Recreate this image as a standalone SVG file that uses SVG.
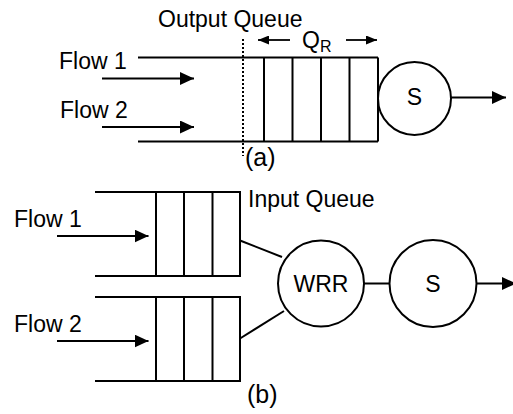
<svg xmlns="http://www.w3.org/2000/svg" width="513" height="414" viewBox="0 0 513 414">
  <defs>
    <marker id="arrow" markerUnits="userSpaceOnUse" markerWidth="14" markerHeight="13" refX="14" refY="6.5" orient="auto">
      <path d="M0,0 L14,6.5 L0,13 Z" fill="#000"/>
    </marker>
    <marker id="arrow-sm" markerUnits="userSpaceOnUse" markerWidth="11" markerHeight="9" refX="11" refY="4.5" orient="auto">
      <path d="M0,0 L11,4.5 L0,9 Z" fill="#000"/>
    </marker>
  </defs>
  <style>
    .ln { stroke: #000; stroke-width: 2; fill: none; }
    .node { stroke: #000; stroke-width: 2; fill: #fff; }
    .lbl { font-family: "Liberation Sans", Arial, sans-serif; font-size: 23px; fill: #000; }
    .cap { font-size: 25px; }
    .arr { stroke: #000; stroke-width: 2; fill: none; marker-end: url(#arrow); }
    .arr-sm { stroke: #000; stroke-width: 1.8; fill: none; marker-end: url(#arrow-sm); }
  </style>

  <!-- (a) shared output queue -->
  <g id="labels-a">
    <text class="lbl" x="158" y="27">Output Queue</text>
    <text class="lbl" x="59" y="69">Flow 1</text>
    <text class="lbl" x="60" y="118">Flow 2</text>
    <text class="lbl" x="302" y="48" font-size="24">Q<tspan font-size="16" dy="4">R</tspan></text>
    <text class="lbl cap" x="245" y="166">(a)</text>
  </g>

  <g id="output-queue">
    <path class="ln" d="M138,57.5 H378 M138,141.5 H378 M264,57.5 V141.5 M292.5,57.5 V141.5 M321,57.5 V141.5 M349.5,57.5 V141.5 M378,57.5 V141.5"/>
  </g>

  <g id="server-a">
    <circle class="node" cx="414.5" cy="98.5" r="36.5"/>
    <text class="lbl" x="414.5" y="105" text-anchor="middle" font-size="24">S</text>
  </g>

  <g id="connectors-a">
    <line x1="243" y1="39" x2="243" y2="156" stroke="#000" stroke-width="2" stroke-dasharray="2,2"/>
    <line class="arr-sm" x1="290" y1="40" x2="258" y2="40"/>
    <line class="arr-sm" x1="346" y1="40" x2="377" y2="40"/>
    <line class="arr" x1="102" y1="78.5" x2="194" y2="78.5"/>
    <line class="arr" x1="102" y1="127" x2="194" y2="127"/>
    <line class="arr" x1="451" y1="97.5" x2="506" y2="97.5"/>
  </g>

  <!-- (b) per-flow input queues with WRR -->
  <g id="labels-b">
    <text class="lbl" x="248" y="207">Input Queue</text>
    <text class="lbl" x="14" y="227">Flow 1</text>
    <text class="lbl" x="14" y="332">Flow 2</text>
    <text class="lbl cap" x="247" y="403">(b)</text>
  </g>

  <g id="input-queue-1">
    <path class="ln" d="M95,192 H241 M95,276 H241 M156,192 V276 M184,192 V276 M212.5,192 V276 M240,192 V276"/>
  </g>

  <g id="input-queue-2">
    <path class="ln" d="M95,297 H241 M95,381 H241 M156,297 V381 M184,297 V381 M212.5,297 V381 M240,297 V381"/>
  </g>

  <g id="wrr">
    <circle class="node" cx="321" cy="283.5" r="43"/>
    <text class="lbl" x="321" y="291.5" text-anchor="middle" font-size="24">WRR</text>
  </g>

  <g id="server-b">
    <circle class="node" cx="433" cy="283.5" r="43.5"/>
    <text class="lbl" x="433" y="291.5" text-anchor="middle" font-size="24">S</text>
  </g>

  <g id="connectors-b">
    <line class="arr" x1="57" y1="236" x2="148.5" y2="236"/>
    <line class="arr" x1="57" y1="341" x2="148.5" y2="341"/>
    <line class="ln" x1="240" y1="240.5" x2="282" y2="257"/>
    <line class="ln" x1="240" y1="338.5" x2="284" y2="311"/>
    <line class="ln" x1="364" y1="283.5" x2="389.5" y2="283.5"/>
    <line class="arr" x1="476.5" y1="283.5" x2="516" y2="283.5"/>
  </g>
</svg>
